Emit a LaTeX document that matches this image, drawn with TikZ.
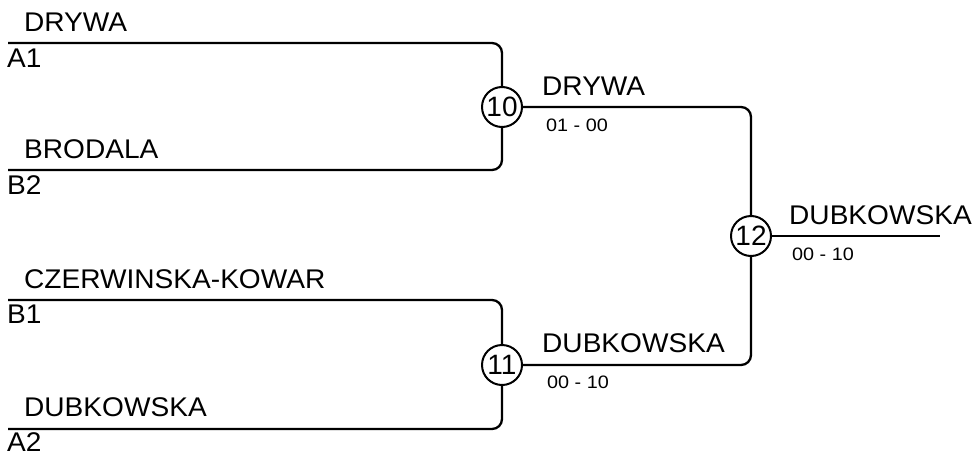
\documentclass[tikz,border=0pt]{standalone}
\usepackage{fontspec}
\setmainfont{Liberation Sans}
\usetikzlibrary{calc}
\newcommand\nmtext[1]{\scalebox{1.04}[1]{#1}}
\newcommand\sctext[1]{\scalebox{1.1}[1]{#1}}
\begin{document}
\begin{tikzpicture}[x=1pt,y=-1pt,
  wire/.style={line width=2.3pt,rounded corners=10pt},
  match/.style={circle,draw,line width=2pt,minimum size=40pt,inner sep=0pt,font=\fontsize{28}{28}\selectfont},
  nm/.style={anchor=base west,inner sep=0pt,font=\fontsize{27}{27}\selectfont},
  sc/.style={anchor=base west,inner sep=0pt,font=\fontsize{18}{18}\selectfont}]
\useasboundingbox (0,0) rectangle (976,455);
% match circles
\node[match] (m10) at (502,107) {10};
\node[match] (m11) at (502,365) {11};
\node[match] (m12) at (751,236) {12};
% line ends
\coordinate (a1) at (8,43);
\coordinate (b2) at (8,170);
\coordinate (b1) at (8,300);
\coordinate (a2) at (8,429);
\coordinate (fin) at (940,236);
% wires
\draw[wire] (a1) -| (m10.north);
\draw[wire] (b2) -| (m10.south);
\draw[wire] (b1) -| (m11.north);
\draw[wire] (a2) -| (m11.south);
\draw[wire] (m10.east) -| (m12.north);
\draw[wire] (m11.east) -| (m12.south);
\draw[wire] (m12.east) -- (fin);
% first round labels
\node[nm] (t1) at (24,31) {\nmtext{DRYWA}};
\node[nm] (s1) at (7,67) {\nmtext{A1}};
\node[nm] (t2) at (24,158) {\nmtext{BRODALA}};
\node[nm] (s2) at (7,194) {\nmtext{B2}};
\node[nm] (t3) at (24,288) {\nmtext{CZERWINSKA-KOWAR}};
\node[nm] (s3) at (7,323) {\nmtext{B1}};
\node[nm] (t4) at (24,416) {\nmtext{DUBKOWSKA}};
\node[nm] (s4) at (7,451) {\nmtext{A2}};
% second round
\node[nm] (w10) at (542,95) {\nmtext{DRYWA}};
\node[sc] (r10) at (546,131) {\sctext{01 - 00}};
\node[nm] (w11) at (542,352) {\nmtext{DUBKOWSKA}};
\node[sc] (r11) at (547,388) {\sctext{00 - 10}};
% final
\node[nm] (w12) at (789,224) {\nmtext{DUBKOWSKA}};
\node[sc] (r12) at (792,260) {\sctext{00 - 10}};
\end{tikzpicture}
\end{document}
